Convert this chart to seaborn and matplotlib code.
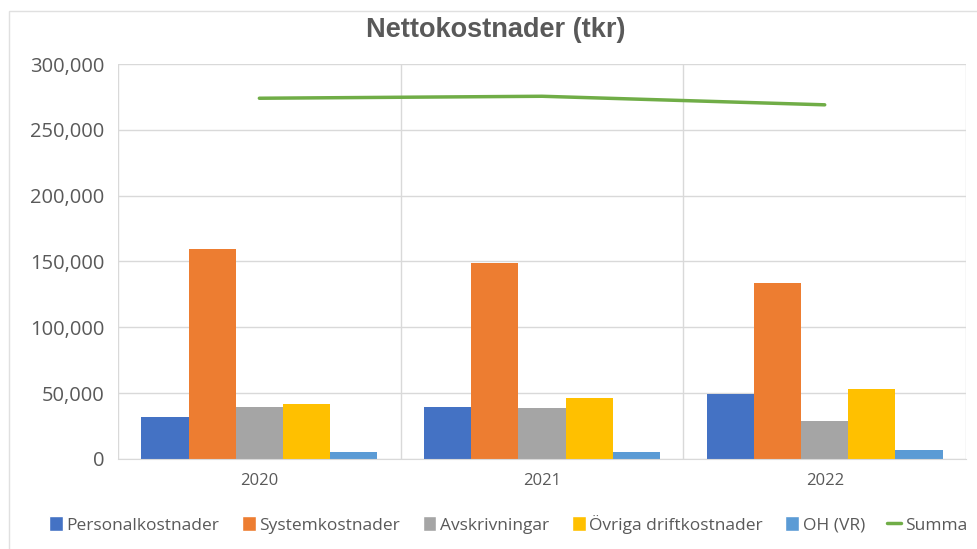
import pandas as pd
import seaborn as sns
import matplotlib.pyplot as plt
from matplotlib.ticker import FuncFormatter, FixedLocator
from matplotlib.patches import Patch, Rectangle
from matplotlib.lines import Line2D

# Data (tkr)
years = ['2020', '2021', '2022']
personal = [32000, 39500, 49500]
system = [159500, 149000, 133500]
avskriv = [39500, 38500, 29000]
ovriga = [41500, 46500, 53000]
oh = [5000, 5000, 6500]
summa = [274000, 275500, 269000]

series = ['Personalkostnader', 'Systemkostnader', 'Avskrivningar',
          'Övriga driftkostnader', 'OH (VR)']
colors = ['#4472C4', '#ED7D31', '#A5A5A5', '#FFC000', '#5B9BD5']
line_color = '#70AD47'
grid_color = '#d9d9d9'
text_color = '#595959'

df = pd.DataFrame({
    'År': years * len(series),
    'Kostnad': personal + system + avskriv + ovriga + oh,
    'Typ': [s for s in series for _ in years],
})

sns.set_style('white')
plt.rcParams['font.family'] = ['Open Sans', 'DejaVu Sans']

fig = plt.figure(figsize=(9.77, 5.49), dpi=100)
ax = fig.add_axes([0.1208, 0.164, 0.868, 0.7194])

sns.barplot(data=df, x='År', y='Kostnad', hue='Typ', hue_order=series,
            palette=colors, width=0.834, saturation=1, linewidth=0,
            legend=False, ax=ax)
sns.lineplot(x=years, y=summa, color=line_color, linewidth=2.5, ax=ax)

# axes styling, Excel look
ax.set_xlim(-0.5, len(years) - 0.5)
ax.set_ylim(0, 300000)
ax.yaxis.set_major_locator(FixedLocator(range(0, 300001, 50000)))
ax.yaxis.set_major_formatter(FuncFormatter(lambda v, p: f'{int(v):,}'))
ax.xaxis.set_minor_locator(FixedLocator([i - 0.5 for i in range(len(years) + 1)]))
ax.grid(axis='y', color=grid_color, linewidth=1)
ax.grid(axis='x', which='minor', color=grid_color, linewidth=1)
ax.set_axisbelow(True)
for s in ['left', 'top', 'right']:
    ax.spines[s].set_visible(False)
ax.spines['bottom'].set_color(grid_color)
ax.tick_params(axis='x', which='major', length=0, labelsize=12, labelcolor=text_color, pad=10)
ax.tick_params(axis='x', which='minor', length=6, color=grid_color)
ax.tick_params(axis='y', length=0, labelsize=14.5, labelcolor=text_color, pad=10)
ax.set_xlabel('')
ax.set_ylabel('')

fig.text(0.507, 0.945, 'Nettokostnader (tkr)', ha='center', va='center',
         fontsize=19.5, fontweight='bold', color=text_color,
         family=['Liberation Sans', 'DejaVu Sans'])

handles = [Patch(facecolor=c, label=s) for s, c in zip(series, colors)]
handles.append(Line2D([], [], color=line_color, linewidth=2.5, label='Summa'))
leg = fig.legend(handles=handles, loc='center', bbox_to_anchor=(0.52, 0.045),
                 ncol=6, frameon=False, fontsize=12.5, handlelength=0.8,
                 handleheight=0.95, handletextpad=0.2, columnspacing=1.3)
for t in leg.get_texts():
    t.set_color(text_color)

# chart area border
fig.patches.append(Rectangle((0.009, -0.05), 1.2, 1.03, transform=fig.transFigure,
                             fill=False, edgecolor='#e0e0e0', linewidth=1))

fig.savefig('out.png', dpi=100)
